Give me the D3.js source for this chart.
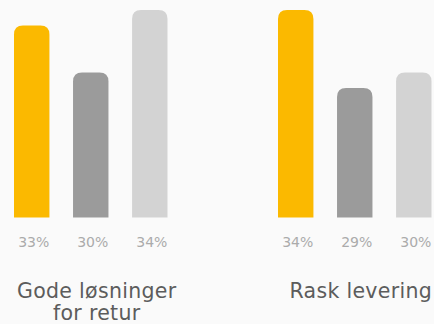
<!DOCTYPE html>
<html lang="en">
<head>
<meta charset="utf-8">
<script src="https://d3js.org/d3.v7.min.js"></script>
<style>
  html, body { margin: 0; padding: 0; background: #fafafa; }
  svg { display: block; }
  .pct { font-family: "DejaVu Sans", sans-serif; font-size: 14px; fill: #ababab; }
  .cat { font-family: "DejaVu Sans", sans-serif; font-size: 20.5px; letter-spacing: 0.3px; fill: #5c5c5c; }
</style>
</head>
<body>
<script>
  var width = 434, height = 324;

  // data
  var categories = [["Gode løsninger", "for retur"], ["Rask levering"]];
  var series = ["a", "b", "c"];
  var values = [[33, 30, 34], [34, 29, 30]];
  var colors = ["#fbb900", "#9b9b9b", "#d3d3d3"];

  var svg = d3.select("body").append("svg")
      .attr("width", width)
      .attr("height", height);

  // groups
  var x0 = d3.scaleBand()
      .domain(d3.range(categories.length))
      .range([14, 542])
      .padding(0);

  // bars inside a group
  var x1 = d3.scaleBand()
      .domain(d3.range(series.length))
      .range([0, 153.5])
      .paddingInner(0.4)
      .paddingOuter(0);

  var y = d3.scaleLinear()
      .domain([20.7, 34])
      .range([217.5, 10]);

  var r = 9;
  function barPath(x, top, w, bottom) {
    var rr = Math.min(r, (bottom - top));
    return "M" + x + "," + bottom +
      "V" + (top + rr) +
      "Q" + x + "," + top + " " + (x + rr) + "," + top +
      "H" + (x + w - rr) +
      "Q" + (x + w) + "," + top + " " + (x + w) + "," + (top + rr) +
      "V" + bottom + "Z";
  }

  var groups = svg.selectAll("g.grp")
      .data(values)
      .enter().append("g")
      .attr("class", "grp")
      .attr("transform", function(d, i) { return "translate(" + x0(i) + ",0)"; });

  groups.selectAll("path")
      .data(function(d) { return d; })
      .enter().append("path")
      .attr("fill", function(d, i) { return colors[i]; })
      .attr("d", function(d, i) {
        return barPath(x1(i), y(d), x1.bandwidth(), y.range()[0]);
      });

  groups.selectAll("text.pct")
      .data(function(d) { return d; })
      .enter().append("text")
      .attr("class", "pct")
      .attr("x", function(d, i) { return x1(i) + x1.bandwidth() / 2 + 2; })
      .attr("y", 247)
      .attr("text-anchor", "middle")
      .text(function(d) { return d + "%"; });

  var cx = 153.5 / 2 + 6;
  groups.each(function(d, i) {
    var t = d3.select(this).append("text")
        .attr("class", "cat")
        .attr("text-anchor", "middle")
        .attr("x", cx)
        .attr("y", 298);
    t.selectAll("tspan")
      .data(categories[i])
      .enter().append("tspan")
      .attr("x", cx)
      .attr("dy", function(d, j) { return j ? 22 : 0; })
      .text(function(d) { return d; });
  });
</script>
</body>
</html>
